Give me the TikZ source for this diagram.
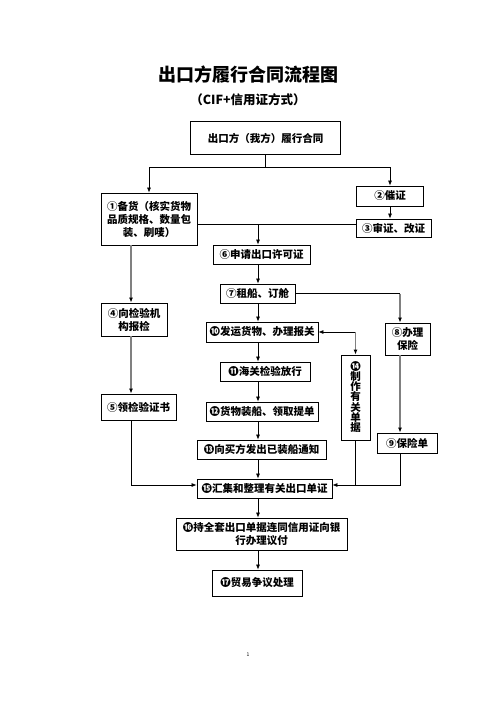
\documentclass[tikz,border=0pt]{standalone}
\usepackage{fontspec}
\setmainfont{Noto Sans CJK SC}
\usetikzlibrary{arrows.meta}

\begin{document}
\begin{tikzpicture}[x=1pt,y=-1pt,
    box/.style={draw, line width=0.8pt, inner sep=1pt, align=center,
      font=\fontsize{10.5}{13}\selectfont\bfseries},
    arr/.style={-{Latex[length=5pt,width=4pt,color=black]}, line width=0.7pt},
    garr/.style={arr, draw=gray, line width=1.5pt}]
      \useasboundingbox (0,0) rectangle (496,702);
      % titles
      \node[font=\fontsize{18}{18}\selectfont\bfseries] (title) at (248,75) {出口方履行合同流程图};
      \node[font=\fontsize{12.5}{13}\selectfont\bfseries] (subtitle) at (248,100) {（CIF+信用证方式）};
      % boxes
      \node[box, minimum width=150pt, minimum height=33pt] (contract) at (265.5,138) {出口方（我方）履行合同};
      \node[box, minimum width=96pt, minimum height=52pt] (goods) at (149,219) {①备货（核实货物\\品质规格、数量包\\装、刷唛）};
      \node[box, minimum width=67pt, minimum height=20pt] (urge) at (390,196) {②催证};
      \node[box, minimum width=75pt, minimum height=18pt] (check) at (393.5,228) {③审证、改证};
      \node[box, minimum width=66pt, minimum height=33pt] (inspect) at (134,319.5) {④向检验机\\构报检};
      \node[box, minimum width=75pt, minimum height=26pt] (cert) at (138.5,407) {⑤领检验证书};
      \node[box, minimum width=97pt, minimum height=19pt] (licence) at (261.5,254.5) {⑥申请出口许可证};
      \node[box, minimum width=75pt, minimum height=19pt] (ship) at (257.5,293.5) {⑦租船、订舱};
      \node[box, minimum width=45pt, minimum height=32pt] (insure) at (407.5,339) {⑧办理\\保险};
      \node[box, minimum width=60pt, minimum height=20pt] (policy) at (407,443) {⑨保险单};
      \node[box, minimum width=112pt, minimum height=20pt] (declare) at (262,332) {❿发运货物、办理报关};
      \node[box, minimum width=90pt, minimum height=19pt] (customs) at (265,371.5) {⓫海关检验放行};
      \node[box, minimum width=112pt, minimum height=19pt] (load) at (262,411.5) {⓬货物装船、领取提单};
      \node[box, minimum width=129pt, minimum height=19pt] (notice) at (261.5,449.5) {⓭向买方发出已装船通知};
      \node[box, minimum width=29pt, minimum height=85pt, font=\fontsize{10.5}{10}\selectfont\bfseries] (docs) at (355.5,397.5) {⓮\\制\\作\\有\\关\\单\\据};
      \node[box, minimum width=135pt, minimum height=19pt] (collect) at (264.5,488.5) {⓯汇集和整理有关出口单证};
      \node[box, minimum width=171pt, minimum height=32pt] (bank) at (261.5,534) {⓰持全套出口单据连同信用证向银\\行办理议付};
      \node[box, minimum width=90pt, minimum height=26pt] (dispute) at (257,583) {⓱贸易争议处理};
      \node[font=\tiny] (page) at (248,655) {1};
      % lanes
      \coordinate (fork) at (265.5,167);
      \coordinate (join) at (258,224);
      \coordinate (spine) at (258,0);
      \coordinate (leftlane) at (131,0);
      \coordinate (doclane) at (355.5,0);
      \coordinate (inslane) at (400,0);
      \coordinate (bottom) at (0,485);
      % connectors
      \draw[line width=0.7pt] (contract.south) -- (fork);
      \draw[arr] (fork) -| (goods.north);
      \draw[arr] (fork) -| (urge.north);
      \draw[arr] (urge.south) -- (urge.south |- check.north);
      \draw[line width=0.7pt] (goods.east |- join) -- (check.west |- join);
      \draw[arr] (join) -- (join |- licence.north);
      \foreach \a/\b in {licence/ship, ship/declare, declare/customs, customs/load,
                         load/notice, notice/collect, collect/bank, bank/dispute}
        \draw[arr] (\a.south -| spine) -- (\b.north -| spine);
      \draw[line width=0.7pt] (ship.east) -- (ship.east -| inslane);
      \draw[garr] (ship.east -| inslane) -- (insure.north -| inslane);
      \draw[garr] (insure.south -| inslane) -- (policy.north -| inslane);
      \draw[arr] (declare.east -| doclane) -- (declare.east);
      \draw[garr] (declare.east -| doclane) -- (docs.north);
      \draw[garr] (goods.south -| leftlane) -- (inspect.north -| leftlane);
      \draw[garr] (inspect.south -| leftlane) -- (cert.north -| leftlane);
      \draw[arr] (cert.south -| leftlane) |- (collect.west |- bottom);
      \draw[arr] (policy.south -| inslane) |- (collect.east |- bottom);
      \draw[line width=0.7pt] (docs.south) -- (docs.south |- bottom);
    \end{tikzpicture}
\end{document}
